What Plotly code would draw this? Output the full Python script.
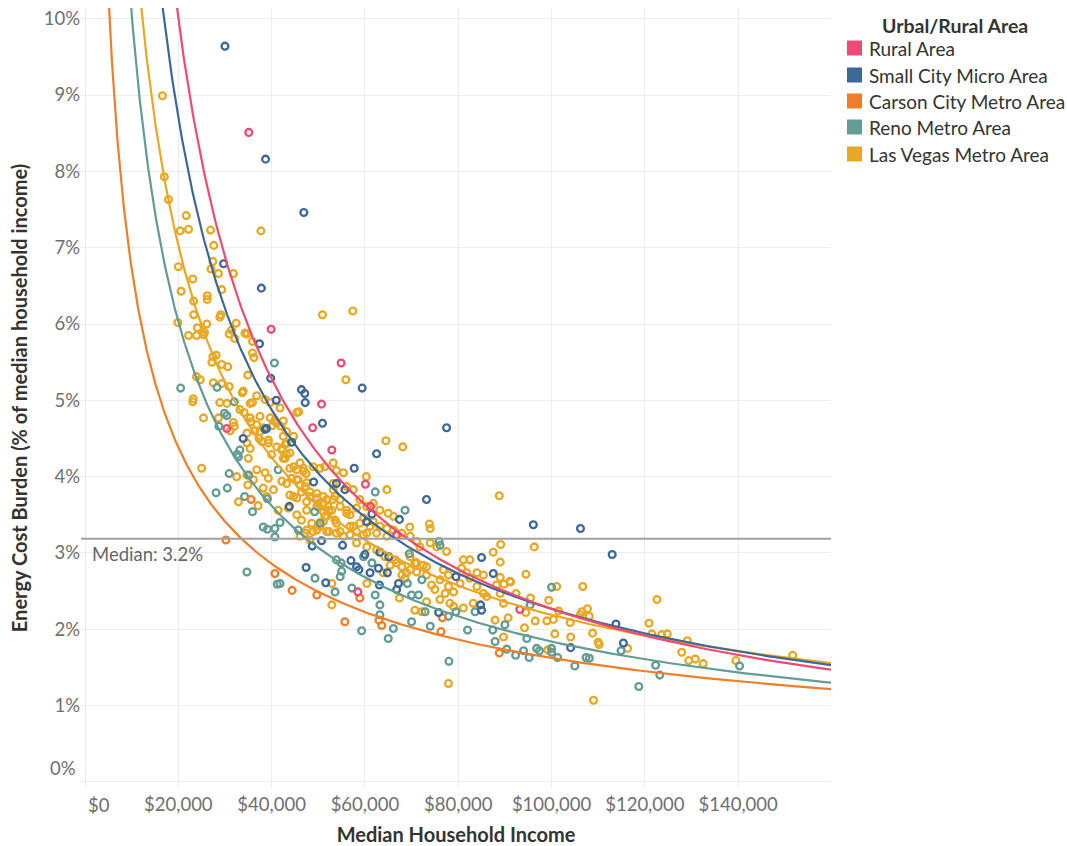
import numpy as np
import plotly.graph_objects as go

# ---------------- data (income in $ thousands, burden in % of income) ----------------
categories = ["Rural Area", "Small City Micro Area", "Carson City Metro Area",
              "Reno Metro Area", "Las Vegas Metro Area"]
colors = ["#EE4A74", "#3D6798", "#F07D27", "#629C94", "#E9A823"]

rural_income_k = [35.1, 39.9, 54.9, 50.7, 48.8, 52.9, 60.1, 61.2, 66.8, 30.4, 58.5, 93.2]
rural_burden = [8.51, 5.93, 5.49, 4.95, 4.64, 4.35, 3.90, 3.61, 3.24, 4.63, 2.49, 2.26]

small_income_k = [30.0, 38.7, 46.9, 29.7, 37.8, 37.4, 59.4, 77.5, 46.4, 47.1, 47.2, 50.9, 41.0,
                  39.8, 62.5, 57.7, 61.5, 67.4, 73.2, 53.9, 55.7, 49.0, 43.8, 33.9, 38.9, 38.6,
                  48.7, 50.7, 55.2, 44.3, 47.4, 51.6, 57.0, 60.0, 63.2, 65.1, 61.1, 64.8, 58.7,
                  62.9, 79.5, 87.5, 85.0, 63.1, 66.8, 67.2, 58.2, 75.8, 84.8, 85.0, 96.1, 106.2,
                  113.0, 104.1, 113.8, 115.4, 60.4]
small_burden = [9.64, 8.16, 7.46, 6.79, 6.47, 5.74, 5.16, 4.64, 5.14, 5.09, 4.97, 4.70, 5.00,
                5.29, 4.30, 4.11, 3.51, 3.44, 3.70, 3.91, 3.83, 3.93, 3.61, 4.50, 4.63, 4.62,
                3.09, 3.16, 3.10, 4.45, 2.81, 2.61, 2.90, 2.98, 3.01, 2.95, 2.74, 2.74, 2.78,
                2.80, 2.69, 2.73, 2.94, 2.58, 2.52, 2.60, 2.82, 2.22, 2.32, 2.25, 3.37, 3.32,
                2.98, 1.76, 2.07, 1.82, 3.41]

carson_income_k = [35.6, 30.2, 44.4, 49.7, 55.7, 63.0, 63.6, 76.3, 76.6, 88.8, 58.9, 40.7]
carson_burden = [3.70, 3.17, 2.51, 2.45, 2.10, 2.12, 2.05, 1.97, 2.15, 1.69, 2.41, 2.73]

reno_income_k = [40.6, 28.3, 20.5, 32.0, 30.4, 29.9, 28.7, 33.2, 32.6, 41.4, 30.9, 35.1, 28.1,
                 30.5, 34.2, 39.1, 35.9, 49.2, 50.4, 45.7, 38.2, 39.1, 40.7, 40.7, 41.8, 62.2,
                 68.6, 75.9, 76.1, 69.5, 59.7, 61.5, 53.9, 55.0, 54.9, 54.7, 53.6, 57.2, 62.2,
                 63.2, 63.2, 59.3, 65.0, 66.1, 70.0, 74.0, 72.9, 70.0, 71.5, 69.1, 72.2, 77.9,
                 79.5, 82.0, 83.6, 87.4, 87.9, 90.0, 90.4, 78.0, 100.0, 95.4, 94.7, 92.3, 94.0,
                 95.2, 96.8, 97.4, 100.0, 100.0, 101.3, 105.0, 107.4, 108.1, 114.9, 122.3, 123.2,
                 118.7, 140.3, 41.8, 49.3, 34.7, 41.2, 32.9]
reno_burden = [5.49, 5.17, 5.16, 4.98, 4.80, 4.83, 4.66, 4.35, 4.29, 4.09, 4.04, 4.02, 3.79,
               3.85, 3.74, 3.71, 3.54, 3.54, 3.39, 3.30, 3.34, 3.31, 3.32, 3.21, 3.40, 3.80,
               3.56, 3.15, 3.10, 2.99, 2.95, 2.87, 2.91, 2.76, 2.87, 2.69, 2.49, 2.54, 2.45,
               2.32, 2.19, 1.98, 1.88, 2.01, 2.10, 2.04, 2.23, 2.45, 2.45, 2.60, 2.65, 2.17,
               2.23, 1.99, 2.23, 1.99, 1.84, 2.06, 1.74, 1.58, 2.55, 2.32, 1.88, 1.66, 1.72,
               1.63, 1.75, 1.72, 1.75, 1.70, 1.63, 1.52, 1.63, 1.62, 1.72, 1.53, 1.40,
               1.25, 1.52, 2.60, 2.67, 2.75, 2.59, 4.26]

vegas_income_k = [
    16.6, 17.0, 17.9, 21.7, 20.4, 22.2, 26.9, 37.7, 27.6, 20.0, 27.4, 27.0, 28.6, 31.8, 23.1, 20.6,
    26.2, 29.3, 26.2, 23.3, 50.9, 23.3, 29.1, 28.9, 19.9, 26.1, 24.1, 32.4, 31.4, 22.2, 23.9, 25.4,
    25.6, 30.9, 32.1, 34.3, 34.7, 35.9, 35.9, 27.4, 28.1, 36.2, 57.4, 55.9, 45.8, 64.5, 68.1, 60.3,
    64.7, 69.6, 73.8, 74.0, 27.2, 29.3, 30.6, 23.9, 24.7, 27.5, 29.3, 30.9, 23.2, 23.1, 28.9, 30.4,
    33.9, 34.9, 36.8, 35.4, 35.9, 33.2, 34.1, 25.4, 28.6, 31.8, 32.0, 31.1, 35.4, 35.6, 37.5, 36.8,
    36.4, 34.7, 37.5, 38.2, 39.7, 40.6, 41.1, 40.2, 42.5, 42.0, 43.2, 44.7, 45.4, 37.3, 37.9, 34.7,
    35.4, 39.3, 39.3, 41.1, 42.2, 42.9, 43.2, 42.5, 40.0, 35.0, 25.0, 32.5, 34.7, 36.8, 38.6, 39.3,
    43.9, 45.4, 46.8, 47.4, 44.3, 45.7, 46.1, 47.5, 48.9, 50.4, 51.4, 49.7, 51.1, 51.8, 50.0, 32.9,
    37.1, 34.9, 38.2, 40.4, 48.6, 50.4, 47.2, 51.1, 51.4, 45.4, 47.5, 33.7, 38.6, 39.7, 41.8, 46.4,
    48.2, 49.7, 47.5, 52.1, 45.4, 46.4, 51.1, 49.7, 51.8, 36.1, 42.2, 38.9, 43.9, 41.4, 43.6, 47.5,
    53.9, 55.4, 88.8, 58.9, 56.1, 58.2, 56.8, 59.7, 61.8, 63.2, 64.7, 66.1, 67.9, 69.7, 71.1, 71.8,
    74.0, 75.4, 77.5, 81.1, 82.5, 87.5, 89.1, 89.0, 73.2, 71.1, 69.7, 76.8, 77.9, 80.7, 84.0, 85.4,
    52.9, 53.6, 54.7, 56.8, 58.2, 60.4, 62.5, 64.3, 66.5, 67.9, 68.9, 71.1, 53.2, 53.6, 54.7, 53.2,
    57.5, 60.4, 61.8, 63.2, 65.0, 66.1, 57.5, 53.9, 60.4, 62.5, 64.7, 53.2, 56.1,
    52.9, 52.9, 60.4, 63.9, 65.4, 66.8, 67.9, 68.6, 69.7, 70.7, 72.5, 73.2, 74.3, 75.0, 76.1, 77.2,
    77.9, 79.0, 80.4, 81.8, 82.5, 84.0, 85.4, 86.1, 88.2, 89.0, 89.7, 83.2, 81.1, 78.2, 76.1, 73.2,
    70.7, 72.2, 67.4, 79.0, 87.9, 89.7, 77.9,
    96.3, 94.5, 91.1, 106.7, 122.6, 92.4, 95.5, 94.5, 99.4, 101.5, 100.4, 99.0, 96.5, 94.2, 107.7,
    106.5, 106.2, 108.1, 104.0, 100.7, 104.1, 108.8, 110.0, 110.2, 116.3, 120.9, 121.5, 123.6,
    124.8, 127.9, 129.4, 109.0, 99.2, 89.0, 89.8, 91.2, 90.7, 101.1, 129.1, 130.8, 132.5, 139.5,
    151.7,
    42.5, 43.2, 42.2, 43.9, 42.9, 44.7, 46.1, 46.8, 45.4, 43.2, 47.2, 48.2, 44.7, 49.7, 51.1, 52.3,
    53.2, 54.7, 56.1, 51.8, 53.9, 50.4, 48.9, 46.1, 48.2, 56.8, 58.2, 59.7, 58.9, 61.1, 52.3, 55.4]
vegas_burden = [
    8.99, 7.93, 7.63, 7.42, 7.22, 7.24, 7.23, 7.22, 7.03, 6.75, 6.82, 6.72, 6.66, 6.66, 6.59, 6.43,
    6.37, 6.45, 6.32, 6.30, 6.12, 6.12, 6.12, 6.09, 6.02, 6.00, 5.95, 6.01, 5.92, 5.85, 5.85, 5.86,
    5.89, 5.87, 5.81, 5.88, 5.87, 5.77, 5.62, 5.57, 5.59, 5.56, 6.17, 5.27, 4.85, 4.47, 4.39, 4.00,
    3.83, 3.34, 3.38, 3.32, 5.50, 5.47, 5.44, 5.31, 5.27, 5.23, 5.22, 5.18, 5.02, 4.98, 4.97, 4.96,
    5.12, 5.33, 5.06, 4.96, 4.97, 4.88, 4.84, 4.77, 4.77, 4.71, 4.66, 4.60, 4.77, 4.72, 4.79, 4.68,
    4.60, 4.57, 4.59, 4.64, 4.77, 4.73, 4.70, 4.67, 4.73, 4.66, 4.59, 4.53, 4.84, 4.50, 4.46, 4.44,
    4.37, 4.48, 4.44, 4.39, 4.37, 4.42, 4.29, 4.24, 4.29, 4.24, 4.11, 4.00, 4.02, 4.09, 4.05, 3.98,
    4.11, 4.09, 4.11, 4.04, 3.98, 3.96, 3.89, 3.92, 4.13, 4.11, 4.13, 3.78, 3.74, 3.70, 3.65, 3.67,
    3.62, 3.89, 3.85, 3.83, 3.39, 3.40, 3.26, 3.54, 3.48, 3.72, 3.56, 5.10, 5.01, 4.97, 4.90, 3.80,
    3.74, 3.61, 3.67, 3.61, 3.50, 3.43, 3.41, 3.30, 3.28, 3.96, 3.94, 3.74, 3.76, 3.56, 3.59, 3.30,
    4.08, 4.05, 3.75, 3.70, 3.56, 3.59, 3.50, 3.46, 3.41, 3.35, 3.32, 3.30, 3.26, 3.22, 3.15, 3.08,
    3.13, 3.08, 3.02, 2.91, 2.91, 3.01, 3.11, 2.88, 2.82, 2.87, 2.95, 2.78, 2.71, 2.80, 2.74, 2.71,
    3.56, 3.43, 3.28, 3.24, 3.13, 3.08, 3.04, 2.95, 2.91, 2.82, 2.74, 2.75, 4.18, 3.74, 3.70, 3.83,
    3.83, 3.61, 3.65, 3.56, 3.52, 3.48, 3.35, 3.26, 3.26, 3.26, 3.22, 3.91, 3.87,
    2.60, 2.32, 2.60, 2.74, 2.84, 2.87, 2.71, 2.67, 2.78, 2.87, 2.84, 2.71, 2.58, 2.52, 2.65, 2.47,
    2.56, 2.49, 2.60, 2.74, 2.67, 2.56, 2.47, 2.43, 2.58, 2.47, 2.34, 2.34, 2.28, 2.34, 2.39, 2.36,
    2.25, 2.23, 2.41, 2.30, 2.12, 1.90, 1.29,
    3.08, 2.72, 2.63, 2.56, 2.39, 2.47, 2.41, 2.22, 2.38, 2.24, 2.13, 2.11, 2.11, 2.02, 2.27,
    2.23, 2.19, 2.17, 2.09, 1.94, 1.90, 1.95, 1.83, 1.80, 1.75, 2.08, 1.94, 1.93,
    1.94, 1.70, 1.59, 1.07, 1.73, 2.68, 2.59, 2.62, 2.15, 2.56, 1.85, 1.61, 1.55, 1.59,
    1.66,
    4.53, 4.44, 4.35, 4.31, 4.24, 4.13, 4.18, 4.07, 3.96, 3.91, 3.87, 3.80, 3.74, 3.72, 3.65, 3.56,
    3.70, 3.61, 3.52, 3.48, 3.39, 3.35, 3.28, 3.22, 3.17, 3.35, 3.28, 3.24, 3.39, 3.35, 3.28, 3.22]

# power trend lines (burden at $160k and exponent)
trend_at_160k = [1.47, 1.53, 1.215, 1.30, 1.556]
trend_exponent = [0.922, 0.836, 0.617, 0.738, 0.725]

median_burden = 3.185
x_tick_vals = [0, 20000, 40000, 60000, 80000, 100000, 120000, 140000]
x_tick_text = ["$0", "$20,000", "$40,000", "$60,000", "$80,000", "$100,000", "$120,000", "$140,000"]
y_tick_vals = [0, 1, 2, 3, 4, 5, 6, 7, 8, 9, 10]
y_tick_text = [f"{v}%" for v in y_tick_vals]

series = {
    "Rural Area": (rural_income_k, rural_burden),
    "Small City Micro Area": (small_income_k, small_burden),
    "Carson City Metro Area": (carson_income_k, carson_burden),
    "Reno Metro Area": (reno_income_k, reno_burden),
    "Las Vegas Metro Area": (vegas_income_k, vegas_burden),
}

FONT = "Lato"
TICK_COLOR = "#6f6f6f"
TITLE_COLOR = "#333333"

W, H = 1067, 846
ML, MR, MT, MB = 81, 236, 8, 58
PW, PH = W - ML - MR, H - MT - MB


def px_to_paper_x(px):
    return (px - ML) / PW


def px_to_paper_y(py):
    return (H - MB - py) / PH


fig = go.Figure()

draw_order = ["Las Vegas Metro Area", "Reno Metro Area", "Carson City Metro Area",
              "Small City Micro Area", "Rural Area"]
for name in draw_order:
    i = categories.index(name)
    xs, ys = series[name]
    fig.add_trace(go.Scatter(
        x=[v * 1000 for v in xs], y=ys, mode="markers", name=name, showlegend=False,
        marker=dict(symbol="circle-open", size=6.8, color=colors[i], line=dict(width=2.3)),
        hoverinfo="skip"))

xgrid = np.geomspace(2000, 160000, 500)
for name in draw_order:
    i = categories.index(name)
    yv = trend_at_160k[i] * (xgrid / 160000.0) ** (-trend_exponent[i])
    fig.add_trace(go.Scatter(x=xgrid, y=yv, mode="lines", showlegend=False,
                             line=dict(color=colors[i], width=2.2), hoverinfo="skip"))

# median reference line + label
fig.add_shape(type="line", xref="paper", x0=0, x1=1, yref="y", y0=median_burden, y1=median_burden,
              line=dict(color="#a0a0a0", width=2), layer="above")
fig.add_annotation(x=1000, y=median_burden, xref="x", yref="y", text="Median: 3.2%",
                   showarrow=False, xanchor="left", yanchor="top", yshift=-2,
                   font=dict(family=FONT, size=18.5, color="#666666"))

# edge tick labels drawn as annotations (shifted inward like the original)
fig.add_annotation(x=0, y=0, xref="x", yref="paper", text=x_tick_text[0], showarrow=False,
                   xanchor="left", yanchor="top", xshift=1, yshift=-4,
                   font=dict(family=FONT, size=18.5, color=TICK_COLOR))
fig.add_annotation(x=0, y=0, xref="paper", yref="y", text=y_tick_text[0], showarrow=False,
                   xanchor="right", yanchor="bottom", xshift=-3, yshift=1,
                   font=dict(family=FONT, size=18.5, color=TICK_COLOR))
x_tick_text_axis = [""] + x_tick_text[1:]
y_tick_text_axis = [""] + y_tick_text[1:]

# legend built from shapes and annotations
fig.add_annotation(x=px_to_paper_x(955), y=px_to_paper_y(25), xref="paper", yref="paper",
                   text="<b>Urbal/Rural Area</b>", showarrow=False, xanchor="center",
                   yanchor="middle", font=dict(family=FONT, size=19.5, color=TITLE_COLOR))
legend_y_px = [48, 75, 101, 127, 154]
for i, name in enumerate(categories):
    cy = legend_y_px[i]
    fig.add_shape(type="rect", xref="paper", yref="paper",
                  x0=px_to_paper_x(847), x1=px_to_paper_x(862),
                  y0=px_to_paper_y(cy + 7.5), y1=px_to_paper_y(cy - 7.5),
                  fillcolor=colors[i], line=dict(width=0))
    fig.add_annotation(x=px_to_paper_x(867), y=px_to_paper_y(cy), xref="paper", yref="paper",
                       text=name, showarrow=False, xanchor="left", yanchor="middle",
                       font=dict(family=FONT, size=19, color=TITLE_COLOR))

fig.update_layout(
    width=W, height=H,
    margin=dict(l=ML, r=MR, t=MT, b=MB, pad=0),
    paper_bgcolor="white", plot_bgcolor="white",
    font=dict(family=FONT, size=18, color=TITLE_COLOR),
    showlegend=False,
    xaxis=dict(range=[-860, 159900], tickvals=x_tick_vals, ticktext=x_tick_text_axis,
               showgrid=True, gridcolor="#ececec", gridwidth=1, zeroline=False, showline=False,
               ticks="", automargin=False, ticklabelstandoff=3,
               tickfont=dict(family=FONT, size=18.5, color=TICK_COLOR),
               title=dict(text="<b>Median Household Income</b>", standoff=14,
                          font=dict(family=FONT, size=20, color=TITLE_COLOR))),
    yaxis=dict(range=[-0.079, 10.14], tickvals=y_tick_vals, ticktext=y_tick_text_axis,
               showgrid=True, gridcolor="#ececec", gridwidth=1, zeroline=False, showline=False,
               ticks="", automargin=False,
               tickfont=dict(family=FONT, size=18.5, color=TICK_COLOR),
               title=dict(text="<b>Energy Cost Burden (% of median household income)</b>",
                          standoff=10, font=dict(family=FONT, size=20, color=TITLE_COLOR))),
)

# remove the default page margin so the figure sits at the window's top-left corner
fig.write_html("out.html", config={"displayModeBar": False},
               post_script="document.body.style.margin='0px';document.body.style.overflow='hidden';")
